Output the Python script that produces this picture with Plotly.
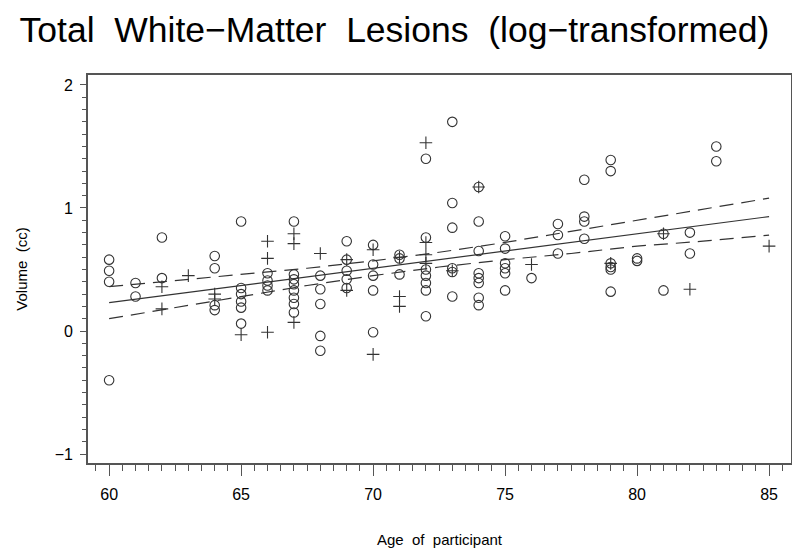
import plotly.graph_objects as go

# Circle-marker observations (age, log volume)
circle_age = [60, 60, 60, 60,
              61, 61,
              62, 62,
              64, 64, 64, 64,
              65, 65, 65, 65, 65, 65,
              66, 66, 66, 66,
              67, 67, 67, 67, 67, 67, 67, 67,
              68, 68, 68, 68, 68,
              69, 69, 69, 69, 69,
              70, 70, 70, 70, 70,
              71, 71, 71,
              72, 72, 72, 72, 72, 72, 72,
              73, 73, 73, 73, 73, 73,
              74, 74, 74, 74, 74, 74, 74, 74,
              75, 75, 75, 75, 75, 75,
              76,
              77, 77, 77,
              78, 78, 78, 78,
              79, 79, 79, 79, 79, 79,
              80, 80,
              81, 81,
              82, 82,
              83, 83]
circle_vol = [0.58, 0.49, 0.40, -0.40,
              0.39, 0.28,
              0.76, 0.43,
              0.61, 0.51, 0.21, 0.17,
              0.89, 0.35, 0.30, 0.24, 0.19, 0.06,
              0.47, 0.41, 0.37, 0.33,
              0.89, 0.46, 0.42, 0.38, 0.33, 0.27, 0.22, 0.15,
              0.45, 0.34, 0.22, -0.04, -0.16,
              0.73, 0.58, 0.49, 0.42, 0.35,
              0.70, 0.54, 0.45, 0.33, -0.01,
              0.62, 0.59, 0.46,
              1.40, 0.76, 0.50, 0.45, 0.39, 0.33, 0.12,
              1.70, 1.04, 0.84, 0.51, 0.48, 0.28,
              1.17, 0.89, 0.65, 0.47, 0.43, 0.39, 0.27, 0.21,
              0.77, 0.67, 0.55, 0.51, 0.47, 0.33,
              0.43,
              0.87, 0.78, 0.63,
              1.23, 0.93, 0.89, 0.75,
              1.39, 1.30, 0.55, 0.52, 0.50, 0.32,
              0.59, 0.57,
              0.79, 0.33,
              0.80, 0.63,
              1.50, 1.38]

# Plus-marker observations
plus_age = [62, 62, 63, 64, 64, 65, 66, 66, 66, 67, 67, 67, 68, 69, 69,
            70, 70, 71, 71, 71, 72, 72, 72, 72, 73, 74, 76, 79, 81, 82, 85]
plus_vol = [0.36, 0.18, 0.45, 0.30, 0.26, -0.03, 0.73, 0.59, -0.01, 0.79, 0.71, 0.07, 0.63, 0.58, 0.33,
            0.66, -0.19, 0.60, 0.28, 0.20, 1.53, 0.72, 0.62, 0.55, 0.49, 1.17, 0.54, 0.55, 0.79, 0.34, 0.69]

# Regression fit and confidence band
fit_age = [60, 62.5, 65, 67.5, 70, 72.5, 75, 77.5, 80, 82.5, 85]
fit_mid = [0.23, 0.30, 0.37, 0.44, 0.51, 0.58, 0.65, 0.72, 0.79, 0.86, 0.93]
fit_upper = [0.36, 0.41, 0.46, 0.51, 0.57, 0.64, 0.72, 0.81, 0.90, 0.99, 1.08]
fit_lower = [0.10, 0.19, 0.28, 0.37, 0.45, 0.52, 0.58, 0.63, 0.69, 0.73, 0.78]

x_ticks = [60, 65, 70, 75, 80, 85]
y_ticks = [-1, 0, 1, 2]
y_tick_text = ["\u22121", "0", "1", "2"]

ink = "#333333"
frame = "#555555"
font = "Liberation Sans, Arial, sans-serif"

fig = go.Figure()
fig.add_trace(go.Scatter(x=fit_age, y=fit_upper, mode="lines",
                         line=dict(color=ink, width=1.2, dash="14px,8px"), hoverinfo="skip"))
fig.add_trace(go.Scatter(x=fit_age, y=fit_lower, mode="lines",
                         line=dict(color=ink, width=1.2, dash="14px,8px"), hoverinfo="skip"))
fig.add_trace(go.Scatter(x=fit_age, y=fit_mid, mode="lines",
                         line=dict(color=ink, width=1.2), hoverinfo="skip"))
fig.add_trace(go.Scatter(x=circle_age, y=circle_vol, mode="markers",
                         marker=dict(symbol="circle-open", size=9.5, color=ink, line=dict(width=1.1, color=ink))))
fig.add_trace(go.Scatter(x=plus_age, y=plus_vol, mode="markers",
                         marker=dict(symbol="cross-thin-open", size=9, color=ink, line=dict(width=1.1, color=ink))))

fig.update_layout(
    width=792, height=549,
    margin=dict(l=80, r=9, t=67, b=94),
    paper_bgcolor="white", plot_bgcolor="white",
    showlegend=False,
    font=dict(family=font, color="black"),
    title=dict(text="Total  White\u2212Matter  Lesions  (log\u2212transformed)",
               x=0.488, xanchor="center", y=0.96, yanchor="middle",
               font=dict(size=35.5, family=font, color="black")),
)
fig.update_xaxes(
    range=[59.2, 85.83], tickvals=x_ticks, ticktext=[str(v) for v in x_ticks],
    showgrid=False, zeroline=False, automargin=False,
    showline=True, mirror=True, linecolor=frame, linewidth=1.6,
    ticks="outside", ticklen=11, tickwidth=1.2, tickcolor=frame,
    minor=dict(dtick=0.5, ticks="outside", ticklen=6, tickwidth=1, tickcolor=frame),
    ticklabelstandoff=5,
    tickfont=dict(size=16),
    title=dict(text="Age  of  participant", font=dict(size=15), standoff=32),
)
fig.update_yaxes(
    range=[-1.073, 2.081], tickvals=y_ticks, ticktext=y_tick_text,
    showgrid=False, zeroline=False, automargin=False,
    showline=True, mirror=True, linecolor=frame, linewidth=1.6,
    ticks="outside", ticklen=6, tickwidth=1.2, tickcolor=frame,
    minor=dict(dtick=0.1, ticks="outside", ticklen=4, tickwidth=1, tickcolor=frame),
    ticklabelstandoff=4,
    tickfont=dict(size=16),
    title=dict(text="Volume  (cc)", font=dict(size=15), standoff=24),
)

fig.write_html("out.html")
